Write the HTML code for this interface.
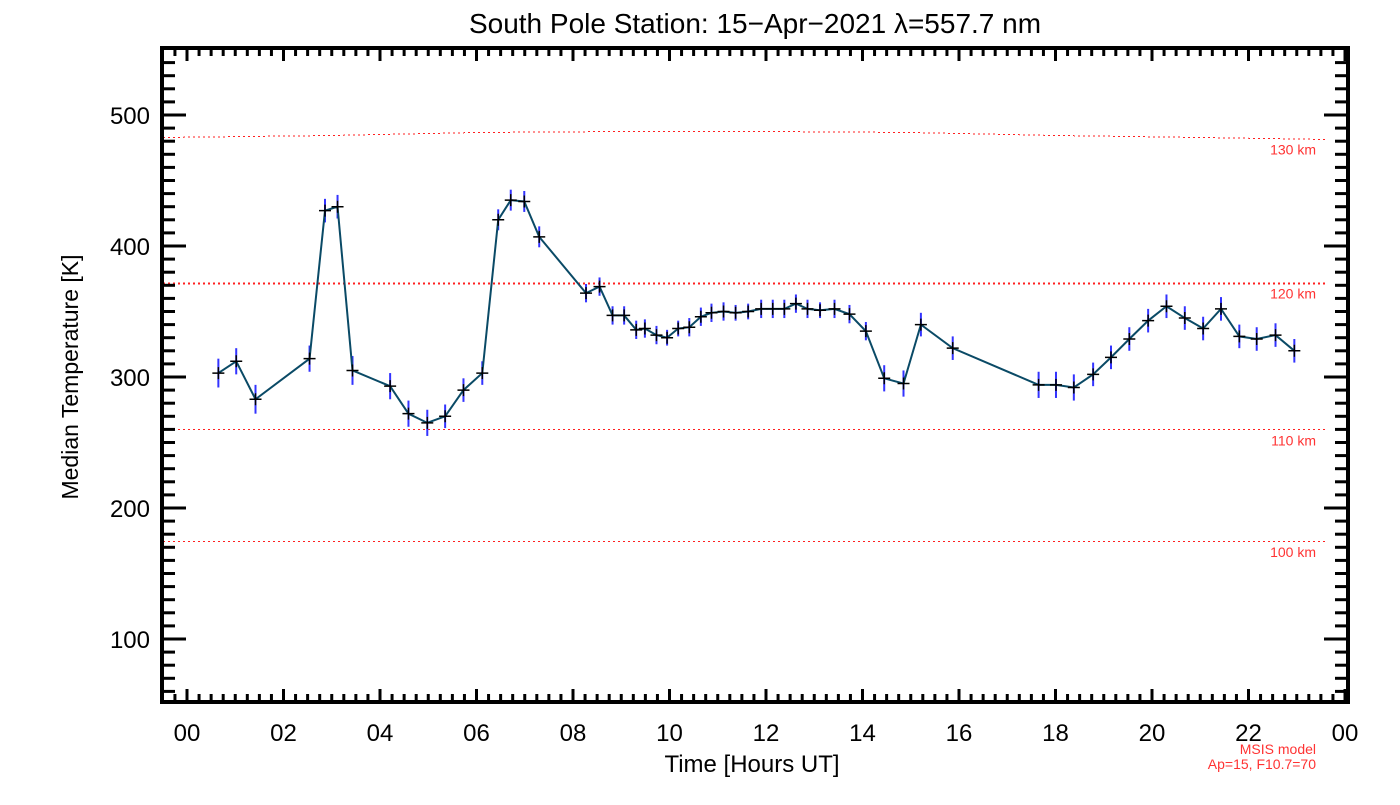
<!DOCTYPE html>
<html><head><meta charset="utf-8"><style>
body{margin:0;background:#fff}
svg text{font-family:"Liberation Sans",sans-serif}
</style></head><body>
<svg id="chart" width="1400" height="800" xmlns="http://www.w3.org/2000/svg">
<rect width="1400" height="800" fill="#fff"/>
<text x="755" y="33" font-size="28" text-anchor="middle" fill="#000">South Pole Station: 15−Apr−2021 λ=557.7 nm</text>
<text transform="translate(78,377) rotate(-90)" font-size="23" text-anchor="middle">Median Temperature [K]</text>
<text x="752" y="772" font-size="24" text-anchor="middle">Time [Hours UT]</text>
<text x="1316" y="754" font-size="14" text-anchor="end" fill="#ff3333">MSIS model</text>
<text x="1316" y="769" font-size="14" text-anchor="end" fill="#ff3333">Ap=15, F10.7=70</text>
<g id="msis"></g>
<g id="axes"></g>
<g id="series"></g>
</svg>
<script>
const hours=[0.65,1.02,1.42,2.54,2.86,3.12,3.43,4.21,4.59,4.98,5.35,5.73,6.12,6.45,6.71,6.99,7.30,8.27,8.55,8.82,9.06,9.31,9.49,9.73,9.95,10.18,10.41,10.65,10.87,11.12,11.37,11.63,11.90,12.14,12.38,12.62,12.86,13.12,13.42,13.73,14.07,14.45,14.85,15.21,15.87,17.65,18.01,18.38,18.78,19.15,19.53,19.92,20.30,20.68,21.06,21.43,21.81,22.17,22.56,22.95];
const temps=[303,312,283,314,427,430,305,293,272,265,270,290,303,420,435,434,407,364,369,347,347,336,337,332,330,337,338,346,349,350,349,350,352,352,352,356,352,351,352,348,335,299,295,340,322,294,294,292,302,315,329,343,354,345,337,352,331,329,332,320];
const errs=[11,10,11,10,9,9,11,10,10,10,9,9,9,8,8,8,8,7,7,7,7,7,7,7,6,6,7,7,7,7,6,6,7,7,7,7,7,6,7,7,7,10,10,9,9,10,10,10,9,9,9,9,9,9,9,9,9,9,9,9];
const msisHours=[-0.5,3,6,9,12,15,18,21,24];
const msis130=[483,485,487,488,488,487,485,483,482];
const msis120=[372,372,372,372,372,372,372,372,372];
const msis110=[260,260,260,260,260,260,260,260,260];
const msis100=[175,175,175,175,175,175,175,175,175];
const msisLabels=["130 km","120 km","110 km","100 km"];
const xTicks=["00","02","04","06","08","10","12","14","16","18","20","22","00"];
const yTicks=[100,200,300,400,500];
const NS="http://www.w3.org/2000/svg";
const X=h=>187+48.25*h, Y=t=>377-(t-300)*1.31;
function mk(tag,attrs,parent){const e=document.createElementNS(NS,tag);for(const k in attrs)e.setAttribute(k,attrs[k]);parent.appendChild(e);return e;}
const ax=document.getElementById('axes'),ms=document.getElementById('msis'),se=document.getElementById('series');
[msis130,msis120,msis110,msis100].forEach((arr,i)=>{
  const pts=msisHours.map((h,j)=>[Math.max(163,Math.min(1328,X(h))),Math.round(Y(arr[j]))+0.5]);
  const p=mk('polyline',{points:pts.map(p=>p.join(',')).join(' '),fill:'none',stroke:'#ff2020','stroke-width':i==1?2:1,'stroke-dasharray':i==1?'2,3':'2,3','shape-rendering':'crispEdges'},ms);
  
  
  const t=mk('text',{x:1316,y:Y(arr[arr.length-1])+16,'font-size':14,'text-anchor':'end',fill:'#ff3333'},ms);
  t.textContent=msisLabels[i];
  
  
});
const fr=mk('rect',{x:162,y:48,width:1186,height:654,fill:'none',stroke:'#000','stroke-width':4},ax);


for(let q=-2;q<=96;q++){const h=q/4,x=X(h);if(x<164||x>1346)continue;const major=q%8==0;const L=major?11:6;
  mk('line',{x1:x,x2:x,y1:700,y2:700-L,stroke:'#000','stroke-width':3},ax);
  mk('line',{x1:x,x2:x,y1:50,y2:50+L,stroke:'#000','stroke-width':3},ax);}
xTicks.forEach((s,i)=>{const t=mk('text',{x:X(i*2),y:741,'font-size':24,'text-anchor':'middle'},ax);t.textContent=s;
  
  });
for(let v=60;v<=550;v+=10){const y=Y(v);if(y<51||y>699)continue;const major=v%100==0;const L=major?22:11;
  mk('line',{x1:164,x2:164+L,y1:y,y2:y,stroke:'#000','stroke-width':3},ax);
  mk('line',{x1:1346,x2:1346-L,y1:y,y2:y,stroke:'#000','stroke-width':3},ax);}
yTicks.forEach(v=>{const t=mk('text',{x:150,y:Y(v)+9,'font-size':24,'text-anchor':'end'},ax);t.textContent=v;
  
  });
hours.forEach((h,i)=>{const l=mk('line',{x1:X(h),x2:X(h),y1:Y(temps[i]-errs[i]),y2:Y(temps[i]+errs[i]),stroke:'#3333ff','stroke-width':2},se);
  
  });
const pl=mk('polyline',{points:hours.map((h,i)=>X(h)+','+Y(temps[i])).join(' '),fill:'none',stroke:'#0a4a66','stroke-width':2},se);


hours.forEach((h,i)=>{const x=X(h),y=Y(temps[i]);
  const g=mk('path',{d:`M${x-6},${y}H${x+6}M${x},${y-6}V${y+6}`,stroke:'#000','stroke-width':1.5},se);
  
  });
</script>
</body></html>
